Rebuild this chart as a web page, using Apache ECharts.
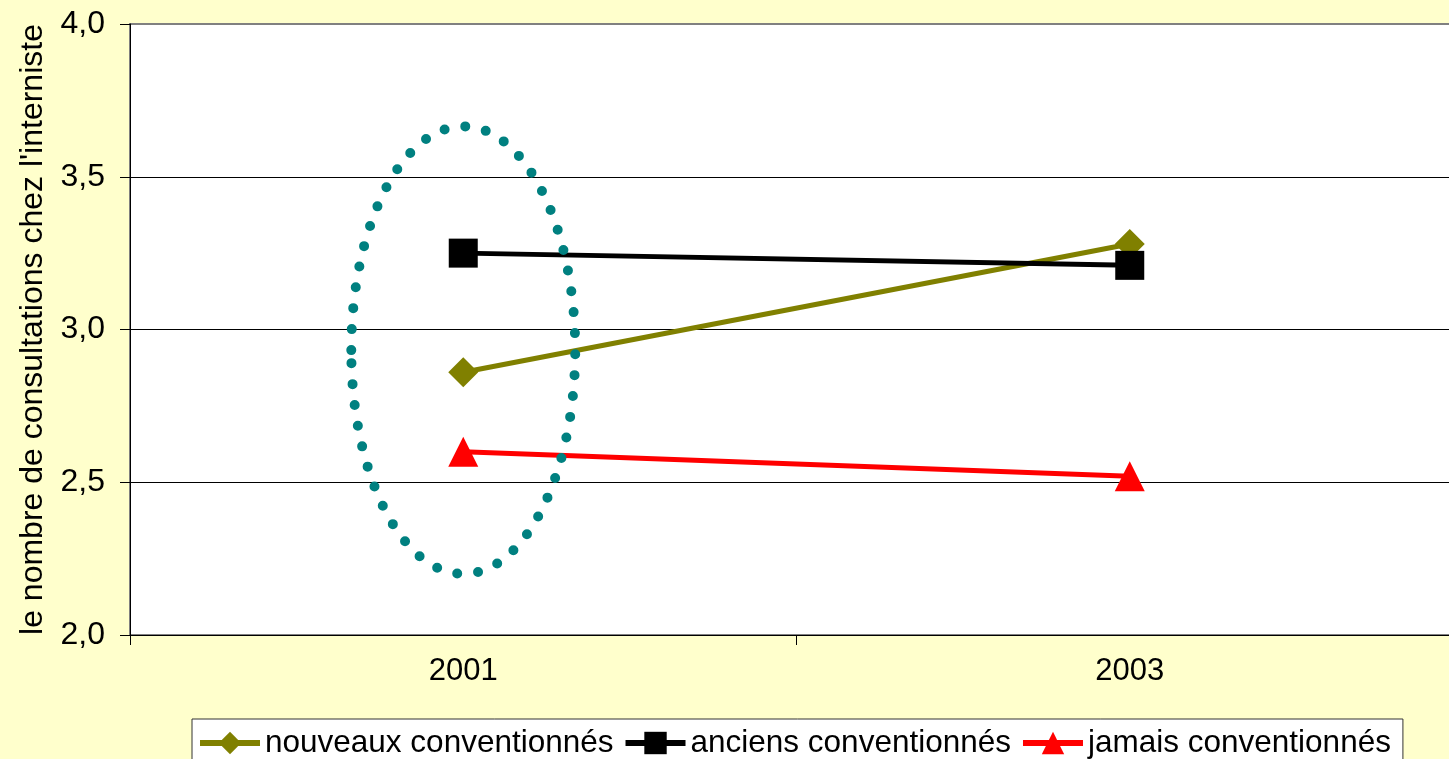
<!DOCTYPE html>
<html>
<head>
<meta charset="utf-8">
<title>Consultations chez l'interniste</title>
<script src="https://cdn.jsdelivr.net/npm/echarts@6/dist/echarts.min.js"></script>
<style>
  html, body { margin: 0; padding: 0; background: #FFFFCC; }
  #chart { width: 1449px; height: 759px; }
</style>
</head>
<body>
<div id="chart"></div>
<script>
// Years on the category axis
const years = ['2001', '2003'];

// Average number of consultations, per group of physicians
const nouveauxConventionnes = [2.86, 3.28];
const anciensConventionnes = [3.25, 3.21];
const jamaisConventionnes = [2.60, 2.52];

// Series names shown in the legend
const seriesNames = ['nouveaux conventionnés', 'anciens conventionnés', 'jamais conventionnés'];

// Y axis range and step
const yMin = 2.0, yMax = 4.0, yStep = 0.5;

// Highlight ring around the 2001 column, in data units
const ringYear = '2001';
const ringTop = 3.665;
const ringBottom = 2.2;
const ringHalfWidth = 0.168; // fraction of the spacing between two years

const FONT = '"Liberation Sans", Arial, sans-serif';

const chart = echarts.init(document.getElementById('chart'), null, { renderer: 'canvas' });

function lineSeries(name, data, color, symbol, size) {
  return {
    name: name,
    type: 'line',
    data: data,
    symbol: symbol,
    symbolSize: size,
    showSymbol: true,
    lineStyle: { color: color, width: 5 },
    itemStyle: { color: color, borderColor: color, borderWidth: 0 },
    emphasis: { disabled: true },
    animation: false,
    z: 3
  };
}

chart.setOption({
  backgroundColor: '#FFFFCC',
  animation: false,
  textStyle: { fontFamily: FONT },
  grid: {
    left: 130, top: 24, width: 1333, height: 611,
    outerBoundsMode: 'none',
    containLabel: false,
    show: true, backgroundColor: '#FFFFFF',
    borderColor: '#808080', borderWidth: 2
  },
  legend: {
    data: seriesNames,
    left: 192, top: 719,
    itemWidth: 60, itemHeight: 28, itemGap: 9,
    backgroundColor: '#FFFFFF',
    borderColor: '#333333', borderWidth: 1,
    padding: [8, 12, 20, 5],
    lineStyle: { width: 6 },
    textStyle: { fontSize: 31.5, color: '#000000', fontFamily: FONT },
    selectedMode: false
  },
  xAxis: {
    type: 'category',
    data: years,
    boundaryGap: true,
    axisLine: { show: true, lineStyle: { color: '#000000', width: 1 } },
    axisTick: { show: true, inside: false, length: 10, lineStyle: { color: '#000000' } },
    axisLabel: { fontSize: 31, color: '#000000', margin: 21, fontFamily: FONT },
    splitLine: { show: false }
  },
  yAxis: {
    type: 'value',
    min: yMin, max: yMax, interval: yStep,
    name: "le nombre de consultations chez l'interniste",
    nameLocation: 'middle',
    nameGap: 80,
    nameTextStyle: { fontSize: 32, color: '#000000', fontFamily: FONT },
    axisLine: { show: true, lineStyle: { color: '#000000', width: 1 } },
    axisTick: { show: true, inside: false, length: 10, lineStyle: { color: '#000000' } },
    axisLabel: {
      fontSize: 32, color: '#000000', margin: 25, fontFamily: FONT,
      formatter: v => v.toFixed(1).replace('.', ',')
    },
    splitLine: {
      show: true,
      lineStyle: { color: ['#000000', '#000000', '#000000', '#000000', '#808080'], width: 1 }
    }
  },
  series: [
    lineSeries(seriesNames[0], nouveauxConventionnes, '#808000', 'diamond', 30),
    lineSeries(seriesNames[1], anciensConventionnes, '#000000', 'rect', 29),
    lineSeries(seriesNames[2], jamaisConventionnes, '#FF0000', 'triangle', 30)
  ]
});

// Dotted ring drawn from data coordinates
function drawRing() {
  const idx = years.indexOf(ringYear);
  const top = chart.convertToPixel({ xAxisIndex: 0, yAxisIndex: 0 }, [idx, ringTop]);
  const bottom = chart.convertToPixel({ xAxisIndex: 0, yAxisIndex: 0 }, [idx, ringBottom]);
  const next = chart.convertToPixel({ xAxisIndex: 0, yAxisIndex: 0 }, [idx + 1, ringTop]);
  const spacing = next[0] - top[0];
  chart.setOption({
    graphic: [{
      type: 'ellipse',
      id: 'ring',
      silent: true,
      z: 10,
      shape: {
        cx: top[0],
        cy: (top[1] + bottom[1]) / 2,
        rx: spacing * ringHalfWidth,
        ry: (bottom[1] - top[1]) / 2
      },
      style: {
        fill: null,
        stroke: '#008080',
        lineWidth: 10,
        lineCap: 'round',
        lineDash: [0, 21]
      }
    }]
  });
}
drawRing();
</script>
</body>
</html>
